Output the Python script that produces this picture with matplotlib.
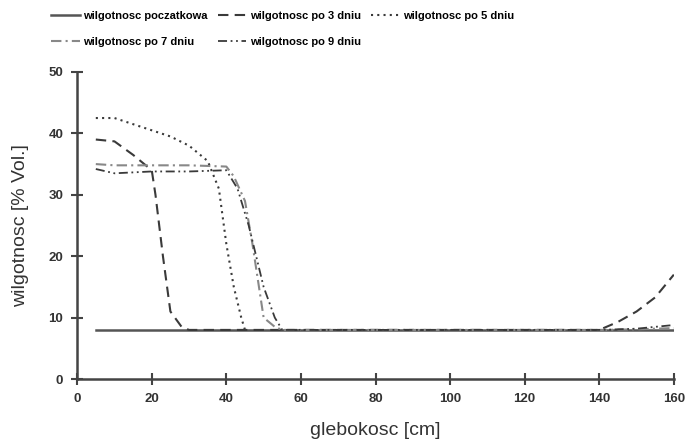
import numpy as np
import matplotlib.pyplot as plt

plt.rcParams['font.family'] = ['Liberation Sans', 'DejaVu Sans']

# depth [cm] / moisture [% Vol.]
x_init = [5, 20, 40, 60, 80, 100, 120, 140, 160]
y_init = [8, 8, 8, 8, 8, 8, 8, 8, 8]

x_d3 = [5, 10, 15, 20, 21, 23, 25, 28, 30, 60, 100, 140, 145, 150, 155, 160]
y_d3 = [39, 38.7, 36.5, 34, 30, 20, 11, 8.5, 8, 8, 8, 8, 9.3, 11, 13.3, 17]

x_d5 = [5, 10, 15, 20, 25, 30, 35, 38, 40, 42, 44, 45]
y_d5 = [42.5, 42.5, 41.5, 40.5, 39.5, 38, 35.5, 31, 22, 15, 10, 8]

x_d7 = [5, 10, 20, 30, 40, 42, 45, 47, 50, 53, 55, 100, 140, 150, 160]
y_d7 = [35, 34.8, 34.8, 34.8, 34.6, 33, 29, 22, 10, 8.5, 8, 8, 8, 8.1, 8.3]

x_d9 = [5, 10, 20, 30, 40, 43, 46, 50, 53, 55, 100, 140, 150, 160]
y_d9 = [34.2, 33.5, 33.8, 33.8, 34, 31, 25, 15, 10, 8, 8, 8, 8.2, 8.8]

labels = ['wilgotnosc poczatkowa', 'wilgotnosc po 3 dniu', 'wilgotnosc po 5 dniu',
          'wilgotnosc po 7 dniu', 'wilgotnosc po 9 dniu']

fig = plt.figure(figsize=(6.89, 4.47), dpi=100)
ax = fig.add_axes([0.112, 0.152, 0.866, 0.687])

dark = '#3a3a3a'
h0, = ax.plot(x_init, y_init, color='#555555', lw=1.8, linestyle='-')
h1, = ax.plot(x_d3, y_d3, color=dark, lw=1.5, linestyle=(0, (5, 3)))
h2, = ax.plot(x_d5, y_d5, color=dark, lw=1.5, linestyle=(0, (1, 2)))
h3, = ax.plot(x_d7, y_d7, color='#888888', lw=1.5, linestyle=(0, (5, 2, 1, 2)))
h4, = ax.plot(x_d9, y_d9, color=dark, lw=1.3, linestyle=(0, (5, 2, 1, 2, 1, 2)))

ax.set_xlim(0, 160)
ax.set_ylim(0, 50)
ax.set_xticks(range(0, 161, 20))
ax.set_yticks(range(0, 51, 10))
for s in ['top', 'right']:
    ax.spines[s].set_visible(False)
for s in ['left', 'bottom']:
    ax.spines[s].set_color('#444444')
    ax.spines[s].set_linewidth(1.8)
ax.tick_params(direction='inout', length=8, width=1.5, color='#444444',
               labelsize=9.5, labelcolor='#333333', pad=6)
for t in ax.get_xticklabels() + ax.get_yticklabels():
    t.set_fontweight('bold')

ax.set_xlabel('glebokosc [cm]', fontsize=14, color='#333333', labelpad=12)
ax.set_ylabel('wilgotnosc [% Vol.]', fontsize=14, color='#333333', labelpad=14)

handles = [h0, h1, h2, h3, h4]
order = [0, 3, 1, 4, 2]
fig.legend([handles[i] for i in order], [labels[i] for i in order],
           loc='upper center', bbox_to_anchor=(0.41, 1.0), ncol=3, frameon=False,
           handlelength=2.6, handletextpad=0.3, columnspacing=0.9,
           labelspacing=1.4, borderaxespad=0.6, prop={'weight': 'bold', 'size': 8})

fig.savefig('out.png', dpi=100)
